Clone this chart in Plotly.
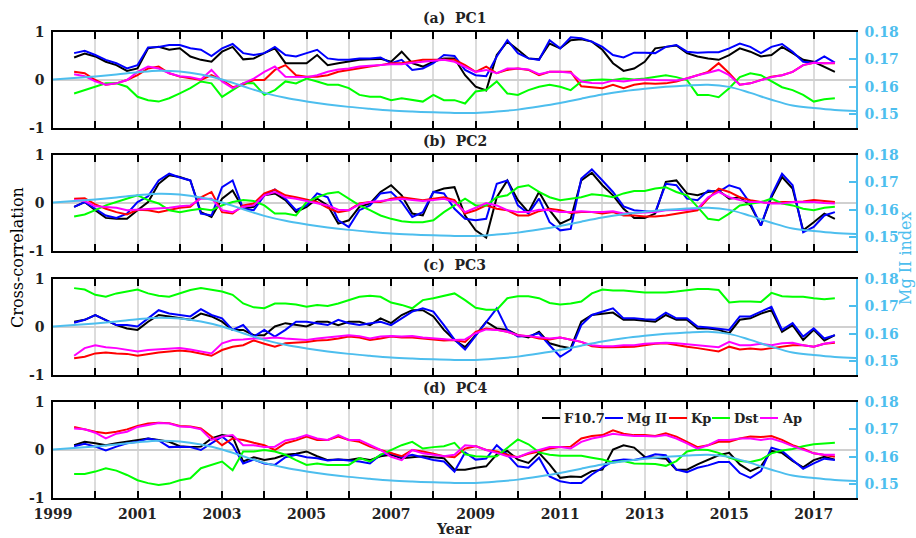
import plotly.graph_objects as go

# ---------------- data ----------------
years = [round(1999.5 + 0.25 * i, 2) for i in range(73)]  # 1999.5 .. 2017.5

mg_years = [round(1999.0 + 0.5 * i, 1) for i in range(39)]  # 1999.0 .. 2018.0
mg_index = [0.1627, 0.1632, 0.1638, 0.1645, 0.1653, 0.1659, 0.1656, 0.1645, 0.1627, 0.1602,
            0.1578, 0.1560, 0.1547, 0.1536, 0.1527, 0.1520, 0.1514, 0.1510, 0.1507, 0.1505,
            0.1505, 0.1510, 0.1517, 0.1528, 0.1541, 0.1557, 0.1572, 0.1584, 0.1593, 0.1600,
            0.1605, 0.1608, 0.1600, 0.1578, 0.1553, 0.1532, 0.1523, 0.1516, 0.1512]

# PC1
pc1_f107 = [0.47, 0.55,
            0.49, 0.38, 0.31, 0.19, 0.24, 0.66, 0.69, 0.63, 0.66, 0.49, 0.42, 0.38,
            0.59, 0.69, 0.43, 0.45, 0.56, 0.66, 0.35, 0.35, 0.35, 0.52, 0.31, 0.35,
            0.38, 0.42, 0.43, 0.44, 0.38, 0.59, 0.35, 0.28, 0.38, 0.45, 0.45, 0.10,
            -0.14, -0.22, 0.52, 0.80, 0.63, 0.45, 0.43, 0.76, 0.66, 0.83, 0.85, 0.80,
            0.63, 0.35, 0.19, 0.24, 0.38, 0.66, 0.69, 0.72, 0.56, 0.49, 0.45, 0.42,
            0.52, 0.66, 0.59, 0.49, 0.52, 0.69, 0.56, 0.42,
            0.38, 0.28, 0.17]
pc1_mgii = [0.56, 0.61,
            0.52, 0.42, 0.35, 0.24, 0.31, 0.68, 0.69, 0.73, 0.73, 0.66, 0.63, 0.50,
            0.66, 0.75, 0.56, 0.52, 0.56, 0.69, 0.52, 0.49, 0.56, 0.63, 0.45, 0.42,
            0.42, 0.45, 0.45, 0.47, 0.35, 0.42, 0.21, 0.24, 0.35, 0.52, 0.50, 0.21,
            0.10, 0.08, 0.49, 0.83, 0.56, 0.45, 0.42, 0.83, 0.66, 0.89, 0.87, 0.80,
            0.69, 0.52, 0.47, 0.57, 0.57, 0.56, 0.69, 0.73, 0.59, 0.57, 0.58, 0.58,
            0.66, 0.76, 0.69, 0.56, 0.69, 0.75, 0.59, 0.38,
            0.36, 0.49, 0.36]
pc1_kp = [0.17, 0.14,
          0.00, -0.10, -0.07, 0.00, 0.10, 0.24, 0.28, 0.14, 0.07, 0.03, 0.00, 0.10,
          0.00, -0.15, -0.10, 0.00, 0.00, 0.21, 0.31, 0.10, 0.07, 0.07, 0.10, 0.17,
          0.21, 0.24, 0.28, 0.31, 0.35, 0.35, 0.38, 0.42, 0.42, 0.42, 0.42, 0.31,
          0.17, 0.28, 0.14, 0.21, 0.24, 0.21, 0.10, 0.17, 0.17, 0.17, -0.13, -0.15,
          -0.17, -0.10, -0.17, -0.10, -0.07, -0.08, -0.07, -0.03, 0.03, 0.10, 0.17, 0.35,
          0.14, -0.10, -0.07, 0.00, 0.07, 0.10, 0.17, 0.31,
          0.36, 0.35, 0.35]
pc1_dst = [-0.28, -0.21,
           -0.13, -0.07, -0.07, -0.14, -0.35, -0.42, -0.45, -0.38, -0.28, -0.17, -0.03, -0.07,
           -0.35, -0.21, -0.07, -0.07, -0.31, -0.21, -0.03, -0.07, 0.03, -0.03, -0.10, -0.10,
           -0.17, -0.31, -0.35, -0.35, -0.42, -0.38, -0.42, -0.45, -0.31, -0.42, -0.42, -0.49,
           -0.24, -0.21, -0.03, -0.28, -0.31, -0.21, -0.14, -0.10, -0.14, -0.21, -0.03, 0.00,
           0.01, 0.00, 0.03, 0.01, 0.03, 0.06, 0.10, 0.06, 0.00, -0.31, -0.31, -0.36,
           -0.17, 0.06, 0.14, 0.10, -0.03, -0.15, -0.21, -0.31,
           -0.45, -0.40, -0.38]
pc1_ap = [0.12, 0.08,
          -0.03, -0.10, -0.07, 0.00, 0.17, 0.28, 0.24, 0.14, 0.08, 0.06, 0.01, 0.21,
          -0.03, -0.17, -0.07, 0.03, 0.17, 0.28, 0.07, 0.06, 0.06, 0.10, 0.17, 0.22,
          0.24, 0.28, 0.29, 0.31, 0.33, 0.33, 0.36, 0.38, 0.40, 0.42, 0.38, 0.28,
          0.17, 0.21, 0.14, 0.24, 0.24, 0.22, 0.12, 0.17, 0.17, 0.15, -0.03, -0.06,
          -0.07, -0.01, -0.03, 0.00, 0.01, 0.00, -0.01, -0.01, 0.03, 0.10, 0.15, 0.21,
          0.10, -0.10, -0.07, -0.01, 0.06, 0.10, 0.17, 0.31,
          0.36, 0.35, 0.36]

# PC2
pc2_f107 = [-0.08, 0.02,
            -0.15, -0.31, -0.33, -0.33, -0.15, 0.02, 0.40, 0.58, 0.54, 0.47, -0.19, -0.29,
            0.09, 0.26, -0.12, -0.08, 0.16, 0.20, 0.06, -0.19, -0.08, 0.09, -0.05, -0.43,
            -0.36, -0.08, -0.01, 0.23, 0.37, 0.16, -0.22, -0.26, 0.23, 0.30, 0.33, -0.26,
            -0.57, -0.72, 0.12, 0.47, 0.06, -0.19, 0.23, -0.15, -0.43, -0.33, 0.47, 0.63,
            0.37, 0.16, -0.12, -0.31, -0.31, -0.22, 0.44, 0.47, 0.20, 0.16, 0.23, 0.26,
            0.09, 0.12, -0.05, -0.47, 0.12, 0.54, 0.30, -0.57,
            -0.40, -0.22, -0.33]
pc2_mgii = [-0.08, 0.02,
            -0.12, -0.26, -0.31, -0.22, 0.02, 0.14, 0.47, 0.61, 0.53, 0.47, -0.22, -0.26,
            0.33, 0.47, -0.12, -0.15, 0.16, 0.28, 0.09, -0.15, -0.05, 0.20, 0.12, -0.36,
            -0.50, -0.15, -0.05, 0.20, 0.23, 0.02, -0.29, -0.19, 0.23, 0.20, -0.12, -0.33,
            -0.36, -0.33, 0.40, 0.47, -0.05, -0.22, 0.09, -0.40, -0.57, -0.54, 0.51, 0.70,
            0.47, 0.23, -0.07, -0.15, -0.17, -0.19, 0.40, 0.37, 0.09, 0.06, 0.26, 0.23,
            0.37, 0.30, -0.01, -0.47, 0.16, 0.61, 0.37, -0.61,
            -0.50, -0.26, -0.19]
pc2_kp = [0.09, 0.10,
          -0.03, -0.12, -0.19, -0.24, -0.14, -0.15, -0.19, -0.14, -0.10, -0.08, 0.12, 0.23,
          -0.19, -0.22, -0.05, -0.01, 0.20, 0.28, 0.16, 0.12, 0.07, 0.02, -0.10, -0.19,
          -0.15, -0.01, 0.02, 0.02, 0.09, 0.12, 0.09, 0.06, 0.09, 0.12, 0.06, -0.22,
          -0.15, -0.05, -0.12, -0.15, -0.26, -0.26, -0.17, -0.12, -0.15, -0.21, -0.19, -0.19,
          -0.22, -0.19, -0.26, -0.26, -0.28, -0.28, -0.26, -0.22, -0.19, -0.15, 0.09, 0.30,
          0.23, 0.12, 0.06, 0.02, 0.00, 0.02, 0.02, 0.03,
          0.06, 0.04, 0.02]
pc2_dst = [-0.28, -0.24,
           -0.15, -0.05, 0.02, 0.09, 0.16, 0.06, -0.01, -0.15, -0.19, -0.15, -0.12, -0.15,
           -0.05, 0.02, 0.06, 0.04, -0.05, -0.22, -0.22, -0.26, 0.02, 0.12, 0.20, 0.23,
           0.09, -0.05, -0.15, -0.26, -0.33, -0.38, -0.40, -0.40, -0.36, -0.19, -0.05, 0.09,
           -0.05, -0.05, 0.12, 0.16, 0.33, 0.37, 0.23, 0.12, 0.06, 0.09, 0.12, 0.18,
           0.16, 0.12, 0.20, 0.25, 0.25, 0.30, 0.33, 0.23, 0.16, -0.08, -0.33, -0.36,
           -0.22, -0.05, -0.01, 0.02, 0.09, -0.01, -0.05, -0.12,
           -0.15, -0.10, -0.08]
pc2_ap = [0.06, 0.04,
          -0.07, -0.08, -0.10, -0.15, -0.14, -0.12, -0.12, -0.10, -0.07, -0.05, 0.09, 0.09,
          -0.15, -0.19, -0.08, -0.05, 0.16, 0.23, 0.12, 0.09, 0.04, 0.00, -0.05, -0.14,
          -0.15, -0.03, 0.02, 0.04, 0.07, 0.09, 0.06, 0.04, 0.06, 0.09, 0.02, -0.19,
          -0.10, 0.00, -0.05, -0.15, -0.19, -0.19, -0.14, -0.15, -0.19, -0.19, -0.17, -0.19,
          -0.19, -0.17, -0.22, -0.21, -0.21, -0.19, -0.15, -0.15, -0.14, -0.12, 0.12, 0.23,
          0.12, 0.06, 0.02, 0.02, -0.01, -0.01, 0.02, 0.02,
          0.02, 0.00, -0.01]

# PC3
pc3_f107 = [0.11, 0.15,
            0.25, 0.15, 0.04, -0.03, -0.06, 0.11, 0.25, 0.22, 0.18, 0.15, 0.28, 0.22,
            0.11, -0.06, -0.06, -0.17, -0.17, 0.01, 0.08, 0.04, 0.01, 0.11, 0.11, 0.04,
            0.11, 0.11, 0.04, 0.18, 0.08, 0.25, 0.35, 0.35, 0.22, -0.06, -0.27, -0.42,
            -0.17, 0.11, -0.03, -0.06, -0.17, -0.22, -0.10, -0.34, -0.40, -0.44, 0.11, 0.25,
            0.28, 0.30, 0.15, 0.15, 0.13, 0.11, 0.25, 0.15, 0.15, -0.03, -0.03, -0.06,
            -0.13, 0.15, 0.18, 0.28, 0.35, -0.10, 0.04, -0.27,
            -0.06, -0.28, -0.17]
pc3_mgii = [0.09, 0.15,
            0.25, 0.15, 0.04, 0.04, 0.01, 0.18, 0.35, 0.28, 0.25, 0.22, 0.37, 0.25,
            0.18, -0.06, 0.04, -0.20, -0.06, -0.20, -0.06, 0.11, 0.11, 0.08, 0.04, 0.15,
            0.08, 0.04, 0.08, 0.11, 0.04, 0.18, 0.32, 0.39, 0.32, 0.04, -0.26, -0.47,
            -0.19, 0.11, 0.39, -0.06, -0.20, -0.19, -0.13, -0.38, -0.62, -0.48, 0.04, 0.25,
            0.32, 0.39, 0.18, 0.18, 0.16, 0.15, 0.30, 0.18, 0.18, 0.01, -0.01, -0.03,
            -0.06, 0.22, 0.22, 0.32, 0.42, -0.06, 0.08, -0.20,
            -0.03, -0.24, -0.17]
pc3_kp = [-0.65, -0.62,
          -0.55, -0.53, -0.55, -0.56, -0.60, -0.56, -0.53, -0.51, -0.49, -0.51, -0.55, -0.60,
          -0.48, -0.41, -0.38, -0.28, -0.35, -0.41, -0.34, -0.33, -0.31, -0.28, -0.27, -0.24,
          -0.20, -0.22, -0.27, -0.24, -0.20, -0.22, -0.22, -0.24, -0.26, -0.28, -0.27, -0.31,
          -0.10, -0.03, -0.06, -0.10, -0.17, -0.19, -0.24, -0.26, -0.22, -0.27, -0.31, -0.40,
          -0.42, -0.42, -0.41, -0.41, -0.38, -0.35, -0.34, -0.38, -0.41, -0.44, -0.48, -0.51,
          -0.41, -0.47, -0.45, -0.47, -0.44, -0.41, -0.38, -0.38,
          -0.41, -0.35, -0.33]
pc3_dst = [0.81, 0.78,
           0.67, 0.63, 0.70, 0.74, 0.78, 0.70, 0.65, 0.63, 0.70, 0.77, 0.81, 0.78,
           0.74, 0.67, 0.49, 0.41, 0.39, 0.49, 0.49, 0.47, 0.42, 0.46, 0.44, 0.49,
           0.56, 0.63, 0.65, 0.63, 0.51, 0.46, 0.39, 0.56, 0.60, 0.65, 0.70, 0.56,
           0.40, 0.36, 0.36, 0.60, 0.64, 0.64, 0.60, 0.50, 0.47, 0.49, 0.53, 0.70,
           0.78, 0.76, 0.76, 0.74, 0.72, 0.72, 0.72, 0.74, 0.77, 0.79, 0.79, 0.77,
           0.51, 0.53, 0.53, 0.52, 0.71, 0.64, 0.63, 0.63,
           0.60, 0.58, 0.60]
pc3_ap = [-0.60, -0.44,
          -0.38, -0.42, -0.44, -0.47, -0.51, -0.48, -0.47, -0.45, -0.44, -0.47, -0.51, -0.55,
          -0.34, -0.27, -0.26, -0.24, -0.24, -0.22, -0.24, -0.26, -0.27, -0.24, -0.22, -0.19,
          -0.17, -0.19, -0.24, -0.20, -0.19, -0.20, -0.19, -0.22, -0.24, -0.26, -0.27, -0.26,
          -0.13, -0.05, -0.06, -0.10, -0.17, -0.19, -0.22, -0.24, -0.22, -0.26, -0.31, -0.38,
          -0.40, -0.40, -0.38, -0.38, -0.35, -0.34, -0.33, -0.34, -0.36, -0.38, -0.41, -0.42,
          -0.31, -0.38, -0.38, -0.35, -0.38, -0.34, -0.33, -0.38,
          -0.41, -0.35, -0.31]

# PC4
pc4_f107 = [0.10, 0.17,
            0.14, 0.10, 0.14, 0.17, 0.21, 0.24, 0.21, 0.17, 0.08, 0.06, 0.07, 0.24,
            0.31, 0.28, -0.24, -0.15, -0.21, -0.17, -0.10, -0.08, -0.03, -0.13, -0.21, -0.20,
            -0.21, -0.17, -0.21, -0.13, -0.10, -0.17, -0.15, -0.13, -0.15, -0.17, -0.41, -0.41,
            -0.37, -0.34, -0.09, -0.02, -0.20, -0.27, -0.06, -0.30, -0.58, -0.55, -0.56, -0.44,
            -0.41, 0.01, 0.10, 0.05, -0.14, -0.16, -0.18, -0.41, -0.41, -0.30, -0.21, -0.11,
            -0.06, -0.30, -0.44, -0.34, -0.02, -0.06, -0.23, -0.36,
            -0.21, -0.14, -0.20]
pc4_mgii = [0.08, 0.13,
            0.07, -0.01, 0.07, 0.14, 0.17, 0.24, 0.20, 0.06, 0.07, 0.06, 0.00, 0.14,
            0.28, 0.10, -0.28, -0.20, -0.28, -0.31, -0.15, -0.10, -0.15, -0.17, -0.22, -0.20,
            -0.22, -0.24, -0.28, -0.10, -0.07, -0.15, -0.10, -0.15, -0.21, -0.24, -0.45, -0.05,
            -0.20, -0.18, 0.10, -0.10, -0.34, -0.37, -0.16, -0.55, -0.65, -0.69, -0.69, -0.51,
            -0.37, -0.23, -0.20, -0.21, -0.16, -0.09, -0.11, -0.41, -0.46, -0.37, -0.32, -0.25,
            -0.25, -0.48, -0.58, -0.44, 0.05, -0.02, -0.21, -0.39,
            -0.28, -0.18, -0.21]
pc4_kp = [0.48, 0.43,
          0.38, 0.35, 0.38, 0.43, 0.50, 0.55, 0.57, 0.56, 0.50, 0.49, 0.45, 0.28,
          0.10, 0.24, 0.21, 0.15, 0.10, 0.00, 0.14, 0.20, 0.28, 0.21, 0.21, 0.28,
          0.21, 0.17, 0.07, 0.00, -0.07, -0.13, 0.00, -0.03, -0.08, -0.13, -0.15, 0.03,
          0.08, 0.00, -0.03, -0.10, -0.15, -0.08, -0.03, 0.03, 0.06, 0.07, 0.24, 0.29,
          0.31, 0.41, 0.34, 0.31, 0.31, 0.29, 0.35, 0.28, 0.17, 0.06, 0.10, 0.17,
          0.17, 0.24, 0.28, 0.27, 0.29, 0.21, 0.10, 0.03,
          -0.07, -0.10, -0.14]
pc4_dst = [-0.50, -0.50,
           -0.45, -0.38, -0.43, -0.52, -0.63, -0.69, -0.73, -0.70, -0.63, -0.59, -0.38, -0.31,
           -0.24, -0.42, -0.03, -0.03, 0.00, -0.03, -0.10, -0.21, -0.31, -0.28, -0.31, -0.31,
           -0.31, -0.17, -0.24, -0.10, 0.00, 0.10, 0.17, 0.03, 0.06, 0.08, 0.15, -0.09,
           -0.13, -0.14, -0.13, 0.05, 0.22, 0.12, -0.05, -0.10, -0.12, -0.12, -0.12, -0.16,
           -0.20, -0.26, -0.23, -0.28, -0.29, -0.29, -0.33, -0.23, -0.03, 0.01, 0.00, -0.06,
           -0.16, -0.23, -0.25, -0.20, -0.07, -0.01, 0.02, 0.08,
           0.12, 0.14, 0.15]
pc4_ap = [0.45, 0.43,
          0.36, 0.24, 0.34, 0.38, 0.48, 0.52, 0.56, 0.55, 0.49, 0.48, 0.43, 0.21,
          0.28, 0.31, 0.10, 0.10, 0.06, 0.07, 0.20, 0.24, 0.31, 0.24, 0.21, 0.31,
          0.21, 0.21, 0.10, 0.00, -0.14, -0.21, 0.00, -0.07, -0.10, -0.13, -0.10, 0.10,
          0.08, 0.00, -0.06, -0.13, -0.15, -0.06, 0.00, 0.06, 0.06, 0.03, 0.17, 0.24,
          0.28, 0.34, 0.31, 0.29, 0.29, 0.28, 0.31, 0.24, 0.14, 0.03, 0.10, 0.21,
          0.21, 0.24, 0.24, 0.21, 0.24, 0.17, 0.08, 0.00,
          -0.07, -0.10, -0.10]

series_names = ["F10.7", "Mg II", "Kp", "Dst", "Ap"]
series_colors = ["#000000", "#0000FF", "#FF0000", "#00FF00", "#FF00FF"]
panel_titles = ["(a)\u00a0\u00a0PC1", "(b)\u00a0\u00a0PC2", "(c)\u00a0\u00a0PC3", "(d)\u00a0\u00a0PC4"]
panels = [
    [pc1_f107, pc1_mgii, pc1_kp, pc1_dst, pc1_ap],
    [pc2_f107, pc2_mgii, pc2_kp, pc2_dst, pc2_ap],
    [pc3_f107, pc3_mgii, pc3_kp, pc3_dst, pc3_ap],
    [pc4_f107, pc4_mgii, pc4_kp, pc4_dst, pc4_ap],
]
year_ticks = list(range(1999, 2019))
year_labels = [str(y) if (y % 2 == 1 and y <= 2017) else "" for y in year_ticks]

# ---------------- layout geometry ----------------
W, H = 916, 538
ML, MR = 53, 60
PW = W - ML - MR
PANEL_TOPS = [32, 155, 279, 402]
PANEL_H = 96
LIGHTBLUE = "#4DBEEE"
FONT = "DejaVu Serif"


def px_x(x):
    return (x - ML) / PW


def px_y(y):
    return 1 - y / H


fig = go.Figure()
layout = dict(
    width=W, height=H,
    margin=dict(l=ML, r=MR, t=0, b=0, pad=0, autoexpand=False),
    paper_bgcolor="white", plot_bgcolor="white",
    showlegend=False,
    font=dict(family=FONT, size=14, color="black"),
)
annotations = []
shapes = []

for i, data in enumerate(panels):
    n = i + 1
    xa = "x" if n == 1 else f"x{n}"
    ya = "y" if n == 1 else f"y{n}"
    yr = f"y{n + 4}"
    top = PANEL_TOPS[i]
    dom = [px_y(top + PANEL_H), px_y(top)]

    layout["xaxis" if n == 1 else f"xaxis{n}"] = dict(
        domain=[0, 1], anchor=ya, range=[1999, 2018], automargin=False,
        tickmode="array", tickvals=year_ticks, ticktext=year_labels,
        showticklabels=(n == 4), ticks="inside", ticklen=7, tickwidth=1.5, tickcolor="black",
        showline=True, linecolor="black", linewidth=1.5, mirror="ticks",
        showgrid=True, gridcolor="#dcdcdc", gridwidth=1.5, zeroline=False,
        tickfont=dict(family=FONT, size=14, color="#222", weight="bold"),
        ticklabelstandoff=2,
    )
    layout["yaxis" if n == 1 else f"yaxis{n}"] = dict(
        domain=dom, anchor=xa, range=[-1, 1], automargin=False,
        tickmode="array", tickvals=[-1, 0, 1], ticktext=["-1", "0", "1"],
        ticks="", showline=True, linecolor="black", linewidth=1.5,
        showgrid=True, gridcolor="#d0d0d0", gridwidth=1.5, zeroline=False,
        tickfont=dict(family=FONT, size=14, color="#222", weight="bold"),
        ticklabelstandoff=4,
    )
    layout[f"yaxis{n + 4}"] = dict(
        overlaying=ya, side="right", anchor=xa, range=[0.145, 0.18], automargin=False,
        tickmode="array", tickvals=[0.15, 0.16, 0.17, 0.18],
        ticktext=["0.15", "0.16", "0.17", "0.18"],
        ticks="inside", ticklen=7, tickwidth=1.5, tickcolor=LIGHTBLUE,
        showline=True, linecolor=LIGHTBLUE, linewidth=1.5,
        showgrid=False, zeroline=False,
        tickfont=dict(family=FONT, size=14, color=LIGHTBLUE, weight="bold"),
        ticklabelstandoff=4,
    )

    for vals, name, col in zip(data, series_names, series_colors):
        fig.add_trace(go.Scatter(x=years, y=vals, mode="lines", name=name,
                                 line=dict(color=col, width=2),
                                 xaxis=xa, yaxis=ya, showlegend=False))
    fig.add_trace(go.Scatter(x=mg_years, y=mg_index, mode="lines", name="Mg II index",
                             line=dict(color=LIGHTBLUE, width=2, shape="spline"),
                             xaxis=xa, yaxis=yr, showlegend=False))

    annotations.append(dict(
        text=panel_titles[i], xref="paper", yref="paper",
        x=0.5, y=px_y(top - 14), xanchor="center", yanchor="middle",
        showarrow=False, font=dict(family=FONT, size=14, color="#222", weight="bold")))

# axis titles
annotations.append(dict(text="Year", xref="paper", yref="paper",
                        x=px_x(454), y=px_y(529), xanchor="center", yanchor="middle",
                        showarrow=False,
                        font=dict(family=FONT, size=14, color="#222", weight="bold")))
annotations.append(dict(text="Cross-correlation", xref="paper", yref="paper",
                        x=px_x(17), y=px_y(258), xanchor="center", yanchor="middle",
                        textangle=-90, showarrow=False,
                        font=dict(family=FONT, size=16, color="black")))
annotations.append(dict(text="Mg II index", xref="paper", yref="paper",
                        x=px_x(905), y=px_y(258), xanchor="center", yanchor="middle",
                        textangle=-90, showarrow=False,
                        font=dict(family=FONT, size=16, color=LIGHTBLUE)))

# legend (drawn inside panel d)
legend_x = [542, 605, 669, 712, 760]
legend_y = 418
for lx, name, col in zip(legend_x, series_names, series_colors):
    shapes.append(dict(type="line", xref="paper", yref="paper",
                       x0=px_x(lx), x1=px_x(lx + 18), y0=px_y(legend_y), y1=px_y(legend_y),
                       line=dict(color=col, width=2)))
    annotations.append(dict(text=name, xref="paper", yref="paper",
                            x=px_x(lx + 20), y=px_y(legend_y), xanchor="left", yanchor="middle",
                            showarrow=False,
                            font=dict(family=FONT, size=13, color="#222", weight="bold")))

layout["annotations"] = annotations
layout["shapes"] = shapes
fig.update_layout(**layout)
fig.write_html("out.html")
